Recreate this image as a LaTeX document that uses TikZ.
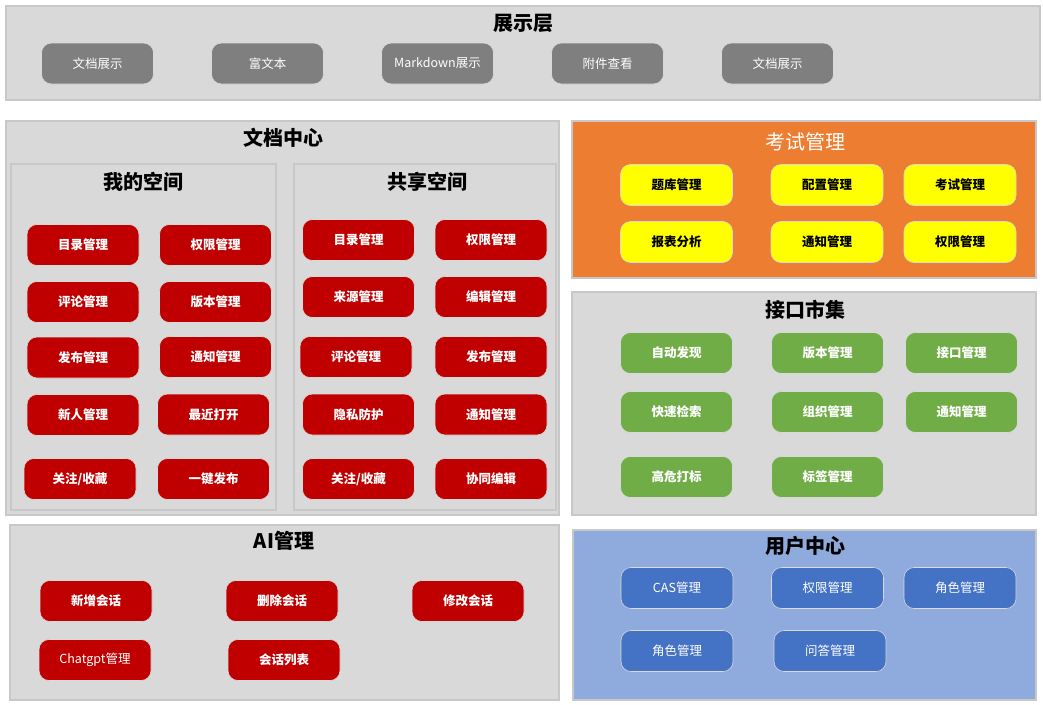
\documentclass[tikz,border=0pt]{standalone}
\usepackage{fontspec}
\setmainfont{Noto Sans CJK SC}
\usepackage{tikz}
\usetikzlibrary{shapes,positioning}

\definecolor{panelgray}{HTML}{D9D9D9}
\definecolor{panelline}{HTML}{C8C8C8}
\definecolor{btngray}{HTML}{7F7F7F}
\definecolor{btnred}{HTML}{C00000}
\definecolor{examorange}{HTML}{ED7D31}
\definecolor{btnyellow}{HTML}{FFFF00}
\definecolor{btngreen}{HTML}{70AD47}
\definecolor{userblue}{HTML}{8FAADC}
\definecolor{btnblue}{HTML}{4472C4}

\begin{document}
\begin{tikzpicture}[x=1pt, y=-1pt]
  \tikzstyle{panel} = [rectangle, draw=panelline, line width=1.6pt, fill=panelgray, inner sep=0pt]
  \tikzstyle{title} = [font=\fontsize{20}{22}\selectfont\bfseries, text=black]
  \tikzstyle{btn} = [rectangle, rounded corners=10pt, draw=panelline!70, line width=0.6pt,
    minimum width=112pt, minimum height=41pt, inner sep=0pt, text=white,
    font=\fontsize{12.5}{14}\selectfont]
  \tikzstyle{graybtn} = [btn, fill=btngray]
  \tikzstyle{redbtn} = [btn, fill=btnred, font=\fontsize{12.5}{14}\selectfont\bfseries]
  \tikzstyle{yellowbtn} = [btn, fill=btnyellow, text=black, font=\fontsize{12.5}{14}\selectfont\bfseries]
  \tikzstyle{greenbtn} = [btn, fill=btngreen, font=\fontsize{12.5}{14}\selectfont\bfseries]
  \tikzstyle{bluebtn} = [btn, fill=btnblue]

  \useasboundingbox (0,0) rectangle (1043,704);
  \fill[white] (0,0) rectangle (1043,704);

  % Place panels
  \node [panel, minimum width=1034pt, minimum height=94pt] (show) at (523,53) {};
  \node [panel, minimum width=553pt, minimum height=394pt] (doc) at (282.5,318) {};
  \node [panel, minimum width=265pt, minimum height=346pt] (mine) at (143.5,337) {};
  \node [panel, minimum width=262pt, minimum height=346pt] (shared) at (425,337) {};
  \node [panel, fill=examorange, minimum width=464pt, minimum height=157pt] (exam) at (804,199.5) {};
  \node [panel, minimum width=464pt, minimum height=223pt] (api) at (804,403.5) {};
  \node [panel, minimum width=549pt, minimum height=175pt] (ai) at (284.5,612.5) {};
  \node [panel, fill=userblue, minimum width=463pt, minimum height=170pt] (user) at (804.5,615) {};

  % Place titles
  \node [title] (showtitle) at (523,23) {展示层};
  \node [title] (doctitle) at (283,138) {文档中心};
  \node [title] (minetitle) at (143,182) {我的空间};
  \node [title] (sharedtitle) at (427,182) {共享空间};
  \node [title, text=white, font=\fontsize{20}{22}\selectfont] (examtitle) at (805,142) {考试管理};
  \node [title] (apititle) at (805,310) {接口市集};
  \node [title] (aititle) at (284,541) {AI管理};
  \node [title] (usertitle) at (805,546) {用户中心};

  % Display layer
  \node [graybtn] (showdoc) at (97.5,63.5) {文档展示};
  \node [graybtn] (showrich) at (267.5,63.5) {富文本};
  \node [graybtn] (showmd) at (437.5,63.5) {Markdown展示};
  \node [graybtn] (showfile) at (607.5,63.5) {附件查看};
  \node [graybtn] (showdoc2) at (777.5,63.5) {文档展示};

  % My space
  \node [redbtn] (minedir) at (83,245) {目录管理};
  \node [redbtn] (mineauth) at (215.5,245) {权限管理};
  \node [redbtn] (minecomment) at (83,302) {评论管理};
  \node [redbtn] (mineversion) at (215.5,302) {版本管理};
  \node [redbtn] (minepublish) at (83,357.5) {发布管理};
  \node [redbtn] (minenotice) at (215.5,357) {通知管理};
  \node [redbtn] (minenew) at (83,415) {新人管理};
  \node [redbtn] (minerecent) at (213.5,414.5) {最近打开};
  \node [redbtn] (minefav) at (80,479) {关注/收藏};
  \node [redbtn] (mineone) at (213.5,479) {一键发布};

  % Shared space
  \node [redbtn] (shdir) at (358.5,240) {目录管理};
  \node [redbtn] (shauth) at (491,240) {权限管理};
  \node [redbtn] (shsource) at (358.5,297) {来源管理};
  \node [redbtn] (shedit) at (491,297) {编辑管理};
  \node [redbtn] (shcomment) at (356,357) {评论管理};
  \node [redbtn] (shpublish) at (491,357) {发布管理};
  \node [redbtn] (shprivacy) at (358.5,414.5) {隐私防护};
  \node [redbtn] (shnotice) at (491,414.5) {通知管理};
  \node [redbtn] (shfav) at (358.5,479) {关注/收藏};
  \node [redbtn] (shcoop) at (491,479) {协同编辑};

  % Exam management
  \node [yellowbtn] (exbank) at (676.5,185) {题库管理};
  \node [yellowbtn] (exconf) at (827,185) {配置管理};
  \node [yellowbtn] (exexam) at (960,185) {考试管理};
  \node [yellowbtn] (exreport) at (676.5,242) {报表分析};
  \node [yellowbtn] (exnotice) at (827,242) {通知管理};
  \node [yellowbtn] (exauth) at (960,242) {权限管理};

  % Interface market
  \node [greenbtn] (apidisc) at (676.5,353) {自动发现};
  \node [greenbtn] (apiversion) at (827.5,353) {版本管理};
  \node [greenbtn] (apiiface) at (961.5,353) {接口管理};
  \node [greenbtn] (apisearch) at (676.5,412) {快速检索};
  \node [greenbtn] (apiorg) at (827.5,412) {组织管理};
  \node [greenbtn] (apinotice) at (961.5,412) {通知管理};
  \node [greenbtn] (apirisk) at (676.5,477) {高危打标};
  \node [greenbtn] (apitag) at (827.5,477) {标签管理};

  % AI management
  \node [redbtn] (ainew) at (96,601) {新增会话};
  \node [redbtn] (aidel) at (282,601) {删除会话};
  \node [redbtn] (aiedit) at (468,601) {修改会话};
  \node [redbtn, font=\fontsize{12.5}{14}\selectfont] (aigpt) at (95,660) {Chatgpt管理};
  \node [redbtn] (ailist) at (284,660) {会话列表};

  % User center
  \node [bluebtn] (usercas) at (677,588) {CAS管理};
  \node [bluebtn] (userauth) at (827.5,588) {权限管理};
  \node [bluebtn] (userrole) at (960,588) {角色管理};
  \node [bluebtn] (userrole2) at (677,651) {角色管理};
  \node [bluebtn] (userqa) at (830,651) {问答管理};

\end{tikzpicture}
\end{document}
